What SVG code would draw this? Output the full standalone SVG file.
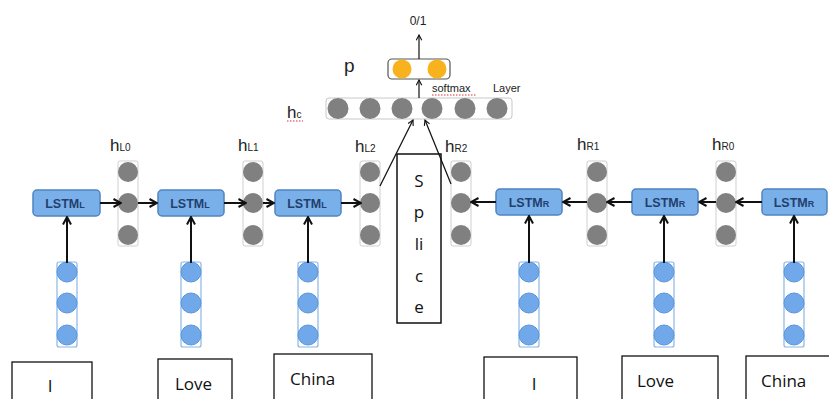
<svg xmlns="http://www.w3.org/2000/svg" width="829" height="399" viewBox="0 0 829 399">
<style>
.lstm rect{fill:#7ab0ea;stroke:#4f84c0;stroke-width:1.5}
.lstm text{font-family:"Liberation Sans",Arial,sans-serif;font-size:12.5px;font-weight:bold;fill:#22406e;text-anchor:middle}
.hcol rect{fill:#fff;stroke:#cfcfcf;stroke-width:1}
.hcol circle{fill:#808080}
.inp rect{fill:#fff;stroke:#8ab6e6;stroke-width:1.2}
.inp circle{fill:#70a8ea;stroke:#5a95dc;stroke-width:1}
.lbl{font-family:"Liberation Sans",Arial,sans-serif;fill:#222}
.sp{font-family:"Open Sans","Liberation Sans",sans-serif;fill:#111;font-size:17px;text-anchor:middle}
.word rect{fill:#fff;stroke:#111;stroke-width:1.3}
.word text{font-family:"Open Sans","Liberation Sans",sans-serif;font-size:17px;fill:#111}
.conn line{stroke:#111;fill:none}
.thick{stroke-width:2}
.thin{stroke-width:1.2}
</style>
<defs>
<marker id="ah" viewBox="0 0 10 10" refX="9" refY="5" markerWidth="10" markerHeight="10" markerUnits="userSpaceOnUse" orient="auto">
<path d="M1.5,1 L9,5 L1.5,9" fill="none" stroke="#111" stroke-width="2"/>
</marker>
<marker id="ahs" viewBox="0 0 10 10" refX="9" refY="5" markerWidth="7" markerHeight="7" markerUnits="userSpaceOnUse" orient="auto">
<path d="M1.5,1 L9,5 L1.5,9" fill="none" stroke="#111" stroke-width="1.6"/>
</marker>
</defs>
<rect width="829" height="399" fill="#fff"/>

<!-- top layer -->
<g id="out-label"><text class="lbl" x="418" y="25" font-size="12" text-anchor="middle">0/1</text></g>
<g id="p-layer">
<text class="lbl" x="344" y="72" font-size="19">p</text>
<rect x="388" y="59" width="62" height="20" rx="4" fill="#fff" stroke="#555" stroke-width="1.2"/>
<circle cx="402" cy="69" r="9.5" fill="#f7b21e"/>
<circle cx="437" cy="69" r="9.5" fill="#f7b21e"/>
</g>
<g id="softmax-label">
<text class="lbl" x="432" y="92" font-size="11">softmax</text>
<line x1="432" y1="95" x2="477" y2="95" stroke="#d33" stroke-width="1" stroke-dasharray="1.5,1.5"/>
<text class="lbl" x="493" y="92" font-size="11">Layer</text>
</g>
<g id="hc-layer">
<text class="lbl" x="287" y="118" font-size="17">h<tspan font-size="10">c</tspan></text>
<line x1="287" y1="121" x2="303" y2="121" stroke="#d33" stroke-width="1" stroke-dasharray="1.5,1.5"/>
<rect x="326" y="98" width="186" height="21" rx="3" fill="#fff" stroke="#c8c8c8" stroke-width="1"/>
<circle cx="338" cy="108.5" r="10.5" fill="#808080"/>
<circle cx="370" cy="108.5" r="10.5" fill="#808080"/>
<circle cx="402" cy="108.5" r="10.5" fill="#808080"/>
<circle cx="432" cy="108.5" r="10.5" fill="#808080"/>
<circle cx="465" cy="108.5" r="10.5" fill="#808080"/>
<circle cx="497" cy="108.5" r="10.5" fill="#808080"/>
</g>

<!-- splice -->
<g id="splice">
<rect x="397" y="154" width="44" height="169" fill="#fff" stroke="#111" stroke-width="1.5"/>
<text class="sp" x="419" y="187">S</text>
<text class="sp" x="419" y="218">p</text>
<text class="sp" x="419" y="250">li</text>
<text class="sp" x="419" y="282">c</text>
<text class="sp" x="419" y="313">e</text>
</g>

<!-- h labels -->
<g id="h-labels" class="lbl" font-size="17">
<text x="110" y="151">h<tspan font-size="10">L0</tspan></text>
<text x="238" y="151">h<tspan font-size="10">L1</tspan></text>
<text x="355" y="152">h<tspan font-size="10">L2</tspan></text>
<text x="445" y="152">h<tspan font-size="10">R2</tspan></text>
<text x="577" y="150">h<tspan font-size="10">R1</tspan></text>
<text x="712" y="150">h<tspan font-size="10">R0</tspan></text>
</g>

<!-- hidden columns -->
<g id="hL0" class="hcol"><rect x="118" y="161" width="20" height="85" rx="2"/><circle cx="128" cy="172" r="10"/><circle cx="128" cy="203" r="10"/><circle cx="128" cy="235" r="10"/></g>
<g id="hL1" class="hcol"><rect x="243" y="161" width="20" height="85" rx="2"/><circle cx="253" cy="172" r="10"/><circle cx="253" cy="203" r="10"/><circle cx="253" cy="235" r="10"/></g>
<g id="hL2" class="hcol"><rect x="360" y="161" width="20" height="85" rx="2"/><circle cx="370" cy="172" r="10"/><circle cx="370" cy="203" r="10"/><circle cx="370" cy="235" r="10"/></g>
<g id="hR2" class="hcol"><rect x="451" y="161" width="20" height="85" rx="2"/><circle cx="461" cy="172" r="10"/><circle cx="461" cy="203" r="10"/><circle cx="461" cy="235" r="10"/></g>
<g id="hR1" class="hcol"><rect x="587" y="161" width="20" height="85" rx="2"/><circle cx="597" cy="172" r="10"/><circle cx="597" cy="203" r="10"/><circle cx="597" cy="235" r="10"/></g>
<g id="hR0" class="hcol"><rect x="716" y="161" width="20" height="85" rx="2"/><circle cx="726" cy="172" r="10"/><circle cx="726" cy="203" r="10"/><circle cx="726" cy="235" r="10"/></g>

<!-- LSTM boxes -->
<g id="lstmL1" class="lstm"><rect x="33" y="190" width="67" height="26" rx="4"/><text x="65" y="208">LSTM<tspan font-size="9">L</tspan></text></g>
<g id="lstmL2" class="lstm"><rect x="158" y="190" width="66" height="26" rx="4"/><text x="190" y="208">LSTM<tspan font-size="9">L</tspan></text></g>
<g id="lstmL3" class="lstm"><rect x="275" y="190" width="66" height="26" rx="4"/><text x="307" y="208">LSTM<tspan font-size="9">L</tspan></text></g>
<g id="lstmR1" class="lstm"><rect x="496" y="189" width="66" height="26" rx="4"/><text x="529" y="207">LSTM<tspan font-size="9">R</tspan></text></g>
<g id="lstmR2" class="lstm"><rect x="632" y="189" width="66" height="26" rx="4"/><text x="665" y="207">LSTM<tspan font-size="9">R</tspan></text></g>
<g id="lstmR3" class="lstm"><rect x="762" y="189" width="65" height="26" rx="4"/><text x="794" y="207">LSTM<tspan font-size="9">R</tspan></text></g>

<!-- input embedding columns -->
<g id="inL1" class="inp"><rect x="57" y="262" width="20" height="85" rx="2"/><circle cx="67" cy="272" r="10"/><circle cx="67" cy="303" r="10"/><circle cx="67" cy="335" r="10"/></g>
<g id="inL2" class="inp"><rect x="181" y="262" width="20" height="85" rx="2"/><circle cx="191" cy="272" r="10"/><circle cx="191" cy="303" r="10"/><circle cx="191" cy="335" r="10"/></g>
<g id="inL3" class="inp"><rect x="298" y="262" width="20" height="85" rx="2"/><circle cx="308" cy="272" r="10"/><circle cx="308" cy="303" r="10"/><circle cx="308" cy="335" r="10"/></g>
<g id="inR1" class="inp"><rect x="519" y="262" width="20" height="85" rx="2"/><circle cx="529" cy="272" r="10"/><circle cx="529" cy="303" r="10"/><circle cx="529" cy="335" r="10"/></g>
<g id="inR2" class="inp"><rect x="654" y="262" width="20" height="85" rx="2"/><circle cx="664" cy="272" r="10"/><circle cx="664" cy="303" r="10"/><circle cx="664" cy="335" r="10"/></g>
<g id="inR3" class="inp"><rect x="784" y="262" width="20" height="85" rx="2"/><circle cx="794" cy="272" r="10"/><circle cx="794" cy="303" r="10"/><circle cx="794" cy="335" r="10"/></g>

<!-- words -->
<g id="wL1" class="word"><rect x="12" y="362" width="80" height="45"/><text x="50" y="392" text-anchor="middle">I</text></g>
<g id="wL2" class="word"><rect x="158" y="359" width="74" height="48"/><text x="175" y="390">Love</text></g>
<g id="wL3" class="word"><rect x="274" y="354" width="98" height="53"/><text x="290" y="385">China</text></g>
<g id="wR1" class="word"><rect x="484" y="357" width="93" height="50"/><text x="534" y="390" text-anchor="middle">I</text></g>
<g id="wR2" class="word"><rect x="622" y="356" width="96" height="51"/><text x="637" y="387">Love</text></g>
<g id="wR3" class="word"><rect x="746" y="356" width="90" height="51"/><text x="761" y="387">China</text></g>

<!-- connectors -->
<g id="connectors" class="conn">
<line class="thin" x1="419" y1="59" x2="419" y2="35" marker-end="url(#ahs)"/>
<line class="thin" x1="419" y1="98" x2="419" y2="80" marker-end="url(#ahs)"/>
<line class="thin" x1="380" y1="186" x2="413" y2="120" marker-end="url(#ahs)"/>
<line class="thin" x1="451" y1="184" x2="425" y2="120" marker-end="url(#ahs)"/>

<line class="thick" x1="100" y1="203" x2="121" y2="203" marker-end="url(#ah)"/>
<line class="thick" x1="138" y1="203" x2="157" y2="203" marker-end="url(#ah)"/>
<line class="thick" x1="224" y1="203" x2="246" y2="203" marker-end="url(#ah)"/>
<line class="thick" x1="263" y1="203" x2="274" y2="203" marker-end="url(#ah)"/>
<line class="thick" x1="341" y1="203" x2="361" y2="203" marker-end="url(#ah)"/>

<line class="thick" x1="496" y1="202" x2="471" y2="202" marker-end="url(#ah)"/>
<line class="thick" x1="587" y1="202" x2="563" y2="202" marker-end="url(#ah)"/>
<line class="thick" x1="632" y1="202" x2="607" y2="202" marker-end="url(#ah)"/>
<line class="thick" x1="716" y1="202" x2="699" y2="202" marker-end="url(#ah)"/>
<line class="thick" x1="762" y1="202" x2="736" y2="202" marker-end="url(#ah)"/>

<line class="thick" x1="67" y1="263" x2="67" y2="217" marker-end="url(#ah)"/>
<line class="thick" x1="191" y1="263" x2="191" y2="217" marker-end="url(#ah)"/>
<line class="thick" x1="308" y1="263" x2="308" y2="217" marker-end="url(#ah)"/>
<line class="thick" x1="529" y1="263" x2="529" y2="216" marker-end="url(#ah)"/>
<line class="thick" x1="664" y1="263" x2="664" y2="216" marker-end="url(#ah)"/>
<line class="thick" x1="794" y1="263" x2="794" y2="216" marker-end="url(#ah)"/>
</g>
</svg>
